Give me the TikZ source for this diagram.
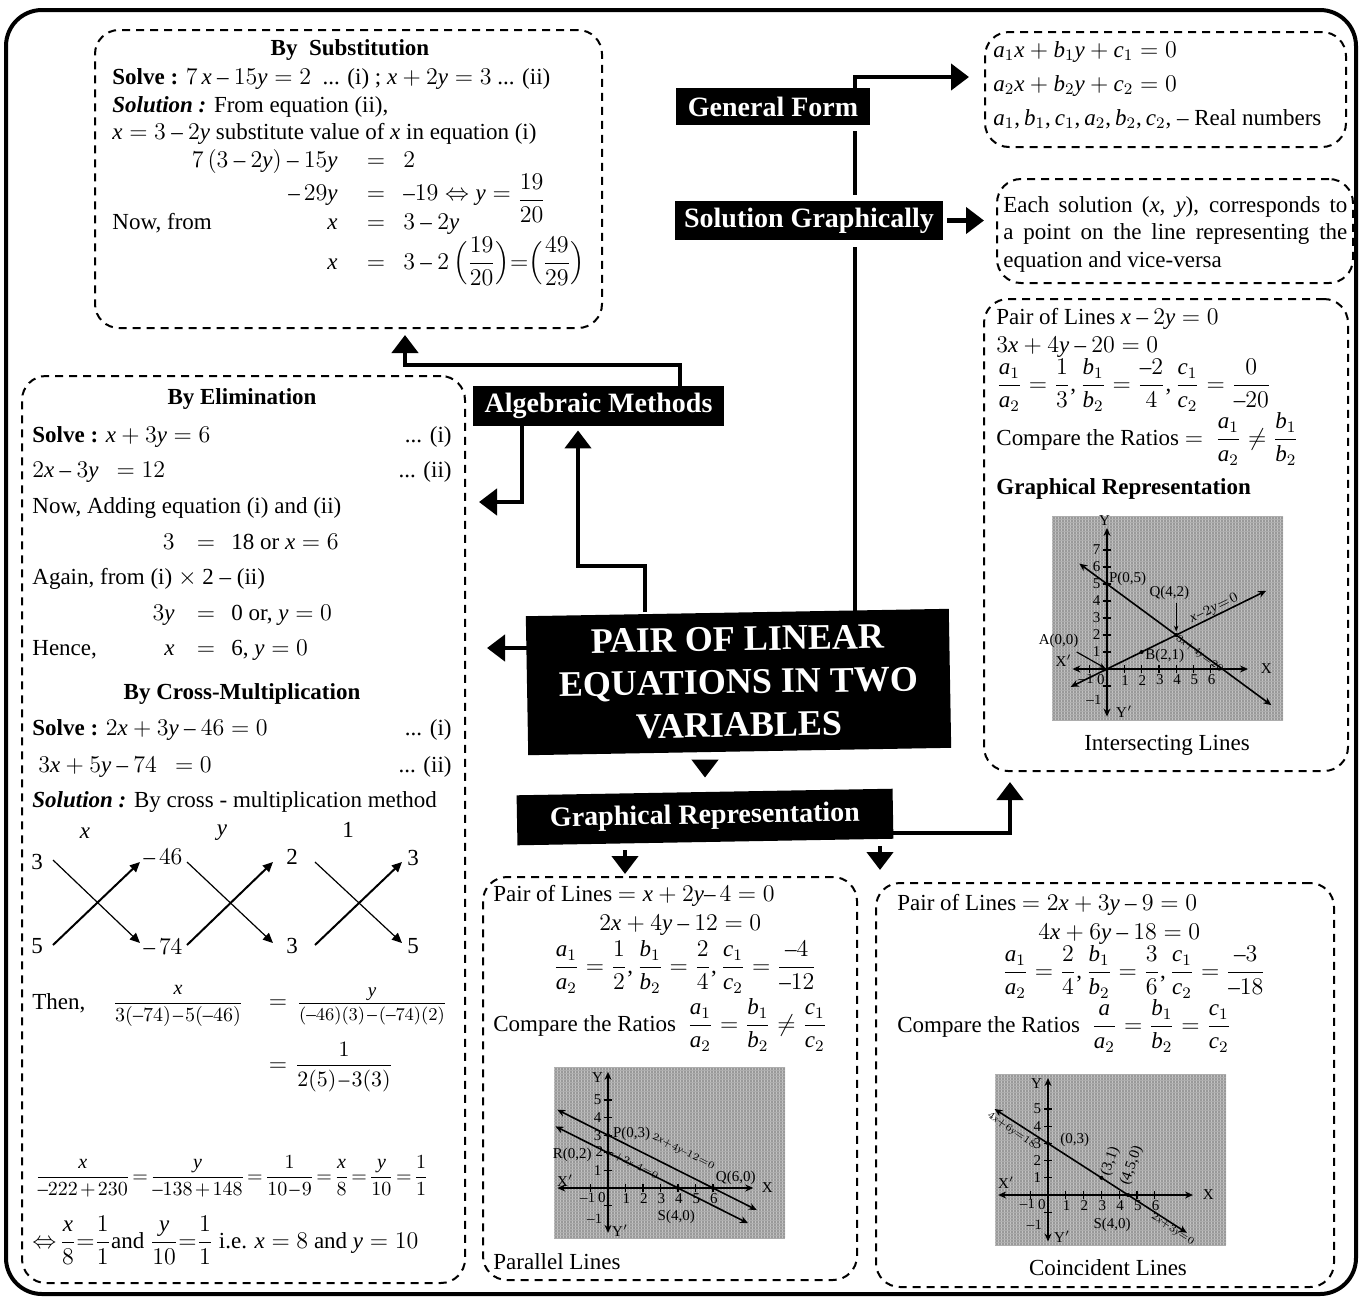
\documentclass[tikz,border=0pt]{standalone}
\usepackage{amsmath}
\usepackage{fontspec}
\setmainfont{Liberation Serif}
\DeclareSymbolFont{timesrm}{TU}{\rmdefault}{m}{n}
\DeclareSymbolFont{timesit}{TU}{\rmdefault}{m}{it}
\Umathcode`a=7 \symtimesit `a
\Umathcode`b=7 \symtimesit `b
\Umathcode`c=7 \symtimesit `c
\Umathcode`x=7 \symtimesit `x
\Umathcode`y=7 \symtimesit `y
\Umathcode`0=0 \symtimesrm `0
\Umathcode`1=0 \symtimesrm `1
\Umathcode`2=0 \symtimesrm `2
\Umathcode`3=0 \symtimesrm `3
\Umathcode`4=0 \symtimesrm `4
\Umathcode`5=0 \symtimesrm `5
\Umathcode`6=0 \symtimesrm `6
\Umathcode`7=0 \symtimesrm `7
\Umathcode`8=0 \symtimesrm `8
\Umathcode`9=0 \symtimesrm `9
\Umathcode`+=2 \symtimesrm `+
\Umathcode`-=2 \symtimesrm "2013
\Umathcode`==3 \symtimesrm `=
\Umathcode`(=4 \symtimesrm `(
\Umathcode`)=5 \symtimesrm `)
\Umathcode`,=6 \symtimesrm `,
\usetikzlibrary{arrows.meta,calc}
\pgfdeclarelayer{bgfill}
\pgfdeclarelayer{bg}
\pgfsetlayers{bgfill,bg,main}
\newcommand\fm{\fontsize{11.5}{14}\selectfont}
\newcommand\fg{\fontsize{7.5}{8}\selectfont}
\newcommand\mua{\medmuskip=2mu\relax}
\newcommand\mub{\medmuskip=2mu\thickmuskip=2mu\relax}
\newcommand\muc{\thickmuskip=2.5mu\relax}
\newcommand\muz{\medmuskip=0mu\thickmuskip=0mu\relax}
\newcommand\muq{\medmuskip=1mu\thickmuskip=1.5mu\relax}
\newcommand\graphbg[4]{%
  \fill[black!40] (#1,#2) rectangle (#3,#4);
  \begin{scope}
    \clip (#1,#2) rectangle (#3,#4);
    \draw[black!24, line width=0.4pt] \foreach \i in {0,3,...,240} {(#1+\i,#2) -- (#1+\i,#4)};
    \draw[black!32, line width=0.25pt] \foreach \i in {0,3,...,210} {(#1,#2+\i) -- (#3,#2+\i)};
  \end{scope}}
\tikzset{
  dbox/.style={draw, line width=1pt, dash pattern=on 4pt off 3pt, rounded corners=12pt, inner sep=0pt},
  lbl/.style={fill=black, text=white, font=\fontsize{14}{16}\selectfont\bfseries, inner sep=0pt},
  conn/.style={line width=2.2pt},
  arr/.style={conn, -{Triangle[width=13pt,length=9pt]}},
  txt/.style={anchor=base west, inner sep=0pt, font=\fm},
  txr/.style={anchor=base east, inner sep=0pt, font=\fm},
  txc/.style={anchor=base, inner sep=0pt, font=\fm},
  hd/.style={anchor=base, inner sep=0pt, font=\fm\bfseries},
  gax/.style={line width=0.8pt, {Stealth[length=4pt,width=3.5pt]}-{Stealth[length=4pt,width=3.5pt]}},
  gtk/.style={line width=0.6pt},
  gl/.style={inner sep=0pt, font=\fg},
  glr/.style={inner sep=0pt, font=\fontsize{4.8}{5}\selectfont\muz},
  xarr/.style={line width=0.6pt, -{Triangle[length=5pt,width=4.5pt]}},
  xarrb/.style={line width=1pt, -{Triangle[length=5pt,width=4.5pt]}},
}
\begin{document}
\begin{tikzpicture}[x=0.5pt,y=-0.5pt]
\useasboundingbox (0,0) rectangle (1361,1297);
\begin{pgfonlayer}{bgfill}
\fill[white] (0,0) rectangle (1361,1297);
\end{pgfonlayer}
% outer frame
\draw[line width=2pt, rounded corners=18pt] (6,10) rectangle (1356,1294);

% dashed boxes
\node[dbox, minimum width=253.5pt, minimum height=149pt] (sub) at (348.5,179) {};
\node[dbox, minimum width=221.5pt, minimum height=453.5pt] (elim) at (243.5,829.5) {};
\node[dbox, minimum width=180.5pt, minimum height=57.5pt] (gfbox) at (1165.5,89.5) {};
\node[dbox, minimum width=178pt, minimum height=52pt] (sgbox) at (1175,231) {};
\node[dbox, minimum width=182pt, minimum height=236pt] (inters) at (1166,535) {};
\node[dbox, minimum width=187pt, minimum height=201.5pt] (par) at (670,1078.5) {};
\node[dbox, minimum width=229pt, minimum height=202pt] (coinc) at (1105,1085) {};

% black label boxes
\node[lbl, minimum width=97pt, minimum height=18.5pt] (GF) at (773,106.5) {General Form};
\node[lbl, minimum width=134pt, minimum height=19.5pt] (SG) at (809,220.5) {Solution Graphically};
\node[lbl, minimum width=125.5pt, minimum height=20pt] (AM) at (598.5,406) {Algebraic Methods};
\node[lbl, minimum width=211.5pt, minimum height=69.5pt, rotate=1, align=center,
      font=\fontsize{18}{21.5}\selectfont\bfseries] (main) at (738.5,682) {PAIR OF LINEAR\\EQUATIONS IN TWO\\VARIABLES};
\node[lbl, minimum width=188pt, minimum height=25pt, rotate=1] (GR) at (705,817) {Graphical Representation};

% connectors (behind the boxes)
\begin{pgfonlayer}{bg}
\coordinate (k1) at (680,365); \coordinate (k2) at (405,365);
\draw[arr, shorten >=3pt] (AM.north -| k1) -- (k1) -- (k2) -- (k2 |- sub.south);
\coordinate (k3) at (522,502);
\draw[arr, shorten >=6.5pt] (AM.south -| k3) -- (k3) -- (k3 -| elim.east);
\coordinate (k4) at (645,566); \coordinate (k5) at (578,566);
\draw[arr, shorten >=2pt] (k4 |- main.north) -- (k4) -- (k5) -- (k5 |- AM.south);
\coordinate (k6) at (487,648);
\draw[arr] (k6 -| main.west) -- (k6);
\coordinate (k7) at (855,77);
\draw[conn, shorten >=3.5pt] (k7 |- main.north) -- (k7 |- SG.south);
\draw[conn, shorten <=3pt, shorten >=3pt] (k7 |- SG.north) -- (k7 |- GF.south);
\draw[arr, shorten >=7.5pt] (k7 |- GF.north) -- (k7) -- (k7 -| gfbox.west);
\draw[arr, shorten <=2pt, shorten >=6pt] (SG.east) -- (SG.east -| sgbox.west);
\coordinate (k8) at (705,0);
\draw[arr, shorten <=4pt, shorten >=7pt] (main.south -| k8) -- (GR.north -| k8);
\coordinate (k9) at (1010,833);
\draw[arr, shorten >=5pt] (k9 -| GR.east) -- (k9) -- (k9 |- inters.south);
\coordinate (k10) at (625,0);
\draw[arr, shorten <=4pt, shorten >=1pt] (GR.south -| k10) -- (k10 |- par.north);
\coordinate (k11) at (880,0);
\draw[arr, shorten <=2pt, shorten >=6pt] (GR.south -| k11) -- (k11 |- coinc.north);
\end{pgfonlayer}

% ---------- By Substitution ----------
\node[hd] at (350,55) {By\ \ Substitution};
\node[txt] at (112,84) {\textbf{Solve :} $7\,x - 15y = 2$\ \ ... (i) ; $x + 2y = 3$ ... (ii)};
\node[txt] at (112,112) {\textbf{\textit{Solution :}} From equation (ii),};
\node[txt] at (112,139) {$x = 3 - 2y$ substitute value of $x$ in equation (i)};
\node[txr] at (338,167) {$7\,(3 - 2y) - 15y$}; \node[txc] at (376,167) {$=$}; \node[txt] at (403,167) {$2$};
\node[txr] at (338,200) {$-\,29y$}; \node[txc] at (376,200) {$=$};
\node[txt] at (403,200) {$-19 \Leftrightarrow y = \raisebox{-3pt}{$\dfrac{19}{20}$}$};
\node[txt] at (112,229) {Now, from}; \node[txr] at (338,229) {$x$}; \node[txc] at (376,229) {$=$}; \node[txt] at (403,229) {$3 - 2y$};
\node[txr] at (338,269) {$x$}; \node[txc] at (376,269) {$=$};
\node[txt] at (403,269) {$3 - 2\,\Bigl(\dfrac{19}{20}\Bigr){=}\Bigl(\dfrac{49}{29}\Bigr)$};

% ---------- By Elimination ----------
\node[hd] at (242,404) {By Elimination};
\node[txt] at (32,442) {\textbf{Solve :} $x + 3y = 6$}; \node[txr] at (452,442) {... (i)};
\node[txt] at (32,477) {$2x - 3y\ \ = 12$}; \node[txr] at (452,477) {... (ii)};
\node[txt] at (32,513) {Now, Adding equation (i) and (ii)};
\node[txr] at (175,549) {$3$}; \node[txc] at (206,549) {$=$}; \node[txt] at (231,549) {18 or $x = 6$};
\node[txt] at (32,584) {Again, from (i) $\times$ 2 -- (ii)};
\node[txr] at (175,620) {$3y$}; \node[txc] at (206,620) {$=$}; \node[txt] at (231,620) {0 or, $y = 0$};
\node[txt] at (32,655) {Hence,}; \node[txr] at (175,655) {$x$}; \node[txc] at (206,655) {$=$}; \node[txt] at (231,655) {6, $y = 0$};

% ---------- By Cross-Multiplication ----------
\node[hd] at (242,699) {By Cross-Multiplication};
\node[txt] at (32,735) {\textbf{Solve :} $2x + 3y - 46 = 0$}; \node[txr] at (452,735) {... (i)};
\node[txt] at (38,772) {$3x + 5y - 74\ \ = 0$}; \node[txr] at (452,772) {... (ii)};
\node[txt] at (32,807) {\textbf{\textit{Solution :}} By cross - multiplication method};
\node[font=\fm, inner sep=0pt] (hx) at (85,833) {$x$};
\node[font=\fm, inner sep=0pt] (hy) at (222,833) {$y$};
\node[font=\fm, inner sep=0pt] (h1) at (348,830) {1};
\node[font=\fm, inner sep=0pt] (n3a) at (37,862) {3};
\node[font=\fm, inner sep=0pt] (n46) at (163,857) {$-\,46$};
\node[font=\fm, inner sep=0pt] (n2) at (292,857) {2};
\node[font=\fm, inner sep=0pt] (n3c) at (413,858) {3};
\node[font=\fm, inner sep=0pt] (n5a) at (37,946) {5};
\node[font=\fm, inner sep=0pt] (n74) at (163,947) {$-\,74$};
\node[font=\fm, inner sep=0pt] (n3b) at (292,946) {3};
\node[font=\fm, inner sep=0pt] (n5b) at (413,946) {5};
\draw[xarr] ([shift={(16,-2)}]n3a.center) -- ([shift={(-23,-4)}]n74.center);
\draw[xarrb] ([shift={(16,-1)}]n5a.center) -- ([shift={(-23,5)}]n46.center);
\draw[xarr] ([shift={(24,5)}]n46.center) -- ([shift={(-19,-3)}]n3b.center);
\draw[xarrb] ([shift={(24,-2)}]n74.center) -- ([shift={(-19,5)}]n2.center);
\draw[xarr] ([shift={(23,5)}]n2.center) -- ([shift={(-11,-3)}]n5b.center);
\draw[xarrb] ([shift={(23,-1)}]n3b.center) -- ([shift={(-11,4)}]n3c.center);

\node[txt] at (32,1009) {Then,};
\node[anchor=base, inner sep=0pt, font=\fontsize{10}{12}\selectfont] at (178,1008) {$\mua\dfrac{x}{3(-74)-5(-46)}$};
\node[txc] at (278,1008) {$=$};
\node[anchor=base, inner sep=0pt, font=\fontsize{9.5}{12}\selectfont] at (372,1008) {$\mua\dfrac{y}{(-46)(3)-(-74)(2)}$};
\node[txc] at (278,1071) {$=$};
\node[anchor=base, inner sep=0pt, font=\fontsize{10.5}{12}\selectfont] at (344,1071) {$\mua\dfrac{1}{2(5)-3(3)}$};
\node[anchor=base west, inner sep=0pt, font=\fontsize{10}{12}\selectfont] at (35,1182)
  {$\mub\dfrac{x}{-222+230}=\dfrac{y}{-138+148}=\dfrac{1}{10-9}=\dfrac{x}{8}=\dfrac{y}{10}=\dfrac{1}{1}$};
\node[txt] at (32,1248) {$\muc\Leftrightarrow \dfrac{x}{8}{=}\dfrac{1}{1}$and $\dfrac{y}{10}{=}\dfrac{1}{1}$ i.e. $x = 8$ and $y = 10$};

% ---------- General form ----------
\node[txt] at (993,57) {$a_1x + b_1y + c_1 = 0$};
\node[txt] at (993,91) {$a_2x + b_2y + c_2 = 0$};
\node[txt] at (993,125) {$a_1, b_1, c_1, a_2, b_2, c_2,$ -- Real numbers};

% ---------- Solution graphically ----------
\node[txt] at (1003,212) {\makebox[172pt][s]{Each solution ($x$, $y$), corresponds to}};
\node[txt] at (1003,239) {\makebox[172pt][s]{a point on the line representing the}};
\node[txt] at (1003,267) {equation and vice-versa};

% ---------- Intersecting ----------
\node[txt] at (996,324) {Pair of Lines $x - 2y = 0$};
\node[txt] at (996,352) {$3x + 4y - 20 = 0$};
\node[txt] at (996,391) {$\dfrac{a_1}{a_2}=\dfrac{1}{3},\dfrac{b_1}{b_2}=\dfrac{-2}{4},\dfrac{c_1}{c_2}=\dfrac{0}{-20}$};
\node[txt] at (996,445) {Compare the Ratios $=\ \dfrac{a_1}{a_2} \neq \dfrac{b_1}{b_2}$};
\node[txt, font=\fm\bfseries] at (996,494) {Graphical Representation};
\node[txc] at (1167,750) {Intersecting Lines};
\graphbg{1052}{516}{1283}{721}
\begin{scope}[shift={(1107,669)}, x=8.65pt, y=8.5pt]
  \draw[gax] (-2,0) -- (8.15,0);
  \draw[gax] (0,-2.8) -- (0,8.3);
  \foreach \i in {-1,1,2,...,6} \draw[gtk] (\i,-0.25) -- (\i,0.25);
  \foreach \i in {-1,1,2,...,7} \draw[gtk] (-0.25,\i) -- (0.25,\i);
  \foreach \i in {1,...,6} \node[gl] at (\i+0.05,-0.65) {\i};
  \foreach \i in {1,...,7} \node[gl] at (-0.6,\i) {\i};
  \node[gl] at (-1.2,-0.6) {$-1$};
  \node[gl] at (-0.35,-0.6) {0};
  \node[gl] at (-0.75,-1.8) {$-1$};
  \draw[gax] (-2.1,-1.05) -- (9.2,4.6);
  \draw[gax] (-1.6,6.2) -- (9.5,-2.125);
  \fill (2,1) circle (1pt); \fill (4,2) circle (1pt); \fill (0,5) circle (1pt);
  \node[gl, anchor=west] at (0.1,5.3) {P(0,5)};
  \node[gl] at (3.6,4.5) {Q(4,2)};
  \draw[line width=0.6pt, -{Stealth[length=3pt]}] (4,3.9) -- (4,2.2);
  \node[gl, anchor=west] at (2.2,0.8) {B(2,1)};
  \node[gl] at (-2.8,1.65) {A(0,0)};
  \draw[line width=0.6pt, -{Stealth[length=3pt]}] (-1.75,1.0) -- (-0.1,0.05);
  \node[gl] at (-2.5,0.5) {X$'$};
  \node[gl] at (9.2,0) {X};
  \node[gl] at (-0.15,8.75) {Y};
  \node[gl] at (1.0,-2.5) {Y$'$};
  \node[inner sep=0pt, font=\fontsize{7}{8}\selectfont\muq, rotate=26] at (6.2,3.55) {$x-2y=0$};
  \node[glr, rotate=-36] at (5.35,0.9) {$3x+4y=20$};
\end{scope}

% ---------- Parallel ----------
\node[txt] at (493,901) {Pair of Lines $= x + 2y{-}\,4 = 0$};
\node[txt] at (599,930) {$2x + 4y - 12 = 0$};
\node[txt] at (553,973) {$\dfrac{a_1}{a_2}=\dfrac{1}{2},\dfrac{b_1}{b_2}=\dfrac{2}{4},\dfrac{c_1}{c_2}=\dfrac{-4}{-12}$};
\node[txt] at (493,1031) {Compare the Ratios\ \ $\dfrac{a_1}{a_2}=\dfrac{b_1}{b_2}\neq\dfrac{c_1}{c_2}$};
\node[txt] at (493,1269) {Parallel Lines};
\graphbg{554}{1067}{785}{1238}
\begin{scope}[shift={(608,1188)}, x=8.75pt, y=8.8pt]
  \draw[gax] (-2.9,0) -- (8.3,0);
  \draw[gax] (0,-2.55) -- (0,6.6);
  \foreach \i in {-1,1,2,...,6} \draw[gtk] (\i,-0.25) -- (\i,0.25);
  \foreach \i in {-1,1,2,...,5} \draw[gtk] (-0.25,\i) -- (0.25,\i);
  \foreach \i in {1,...,6} \node[gl] at (\i+0.05,-0.6) {\i};
  \foreach \i in {1,3,4,5} \node[gl] at (-0.6,\i) {\i};
  \node[gl] at (-0.5,2.05) {2};
  \node[gl] at (-1.15,-0.55) {$-1$};
  \node[gl] at (-0.35,-0.55) {0};
  \node[gl] at (-0.75,-1.75) {$-1$};
  \draw[gax] (-2.9,4.45) -- (8.5,-1.25);
  \draw[gax] (-3,3.5) -- (8,-2);
  \fill (0,3) circle (1pt); \fill (0,2) circle (1pt); \fill (6,0) circle (1pt); \fill (4,0) circle (1pt);
  \node[gl] at (1.35,3.1) {P(0,3)};
  \node[gl] at (-2.05,1.9) {R(0,2)};
  \node[gl] at (7.3,0.57) {Q(6,0)};
  \node[gl] at (3.9,-1.65) {S(4,0)};
  \node[gl] at (-2.45,0.4) {X$'$};
  \node[gl] at (9.1,0) {X};
  \node[gl] at (-0.6,6.25) {Y};
  \node[gl] at (0.7,-2.4) {Y$'$};
  \node[inner sep=0pt, font=\fontsize{5.2}{6}\selectfont\muz, rotate=-27] at (4.3,2.05) {$2x+4y{-}12=0$};
  \node[inner sep=0pt, font=\fontsize{4}{5}\selectfont\muz, rotate=-27] at (1.5,1.3) {$x+2y{-}4=0$};
\end{scope}

% ---------- Coincident ----------
\node[txt] at (897,910) {Pair of Lines $= 2x + 3y - 9 = 0$};
\node[txt] at (1038,939) {$4x + 6y - 18 = 0$};
\node[txt] at (1002,978) {$\dfrac{a_1}{a_2}=\dfrac{2}{4},\dfrac{b_1}{b_2}=\dfrac{3}{6},\dfrac{c_1}{c_2}=\dfrac{-3}{-18}$};
\node[txt] at (897,1032) {Compare the Ratios\ \ $\dfrac{a}{a_2}=\dfrac{b_1}{b_2}=\dfrac{c_1}{c_2}$};
\node[txc] at (1108,1275) {Coincident Lines};
\graphbg{995}{1074}{1226}{1245}
\begin{scope}[shift={(1048,1195)}, x=8.9pt, y=8.6pt]
  \draw[gax] (-2.8,0) -- (8.15,0);
  \draw[gax] (0,-2.7) -- (0,6.8);
  \foreach \i in {-1,1,2,...,6} \draw[gtk] (\i,-0.25) -- (\i,0.25);
  \foreach \i in {-1,1,2,...,5} \draw[gtk] (-0.25,\i) -- (0.25,\i);
  \foreach \i in {1,...,6} \node[gl] at (\i+0.05,-0.6) {\i};
  \foreach \i in {1,...,5} \node[gl] at (-0.6,\i) {\i};
  \node[gl] at (-1.15,-0.55) {$-1$};
  \node[gl] at (-0.35,-0.55) {0};
  \node[gl] at (-0.75,-1.75) {$-1$};
  \draw[gax] (-3,5) -- (7.8,-2.2);
  \fill (0,3) circle (1pt); \fill (3,1) circle (1pt); \fill (4.5,0) circle (1pt);
  \node[gl] at (1.5,3.2) {(0,3)};
  \node[gl, rotate=70] at (3.5,1.95) {(3,1)};
  \node[gl, rotate=70] at (4.7,1.7) {(4,5,0)};
  \node[gl] at (3.6,-1.75) {S(4,0)};
  \node[glr, rotate=-34] at (-2.05,3.75) {$4x+6y=18$};
  \node[glr, rotate=-33] at (7.0,-2.0) {$2x+3y=0$};
  \node[gl] at (-2.35,0.7) {X$'$};
  \node[gl] at (9.0,0) {X};
  \node[gl] at (-0.65,6.5) {Y};
  \node[gl] at (0.8,-2.4) {Y$'$};
\end{scope}
\end{tikzpicture}
\end{document}
